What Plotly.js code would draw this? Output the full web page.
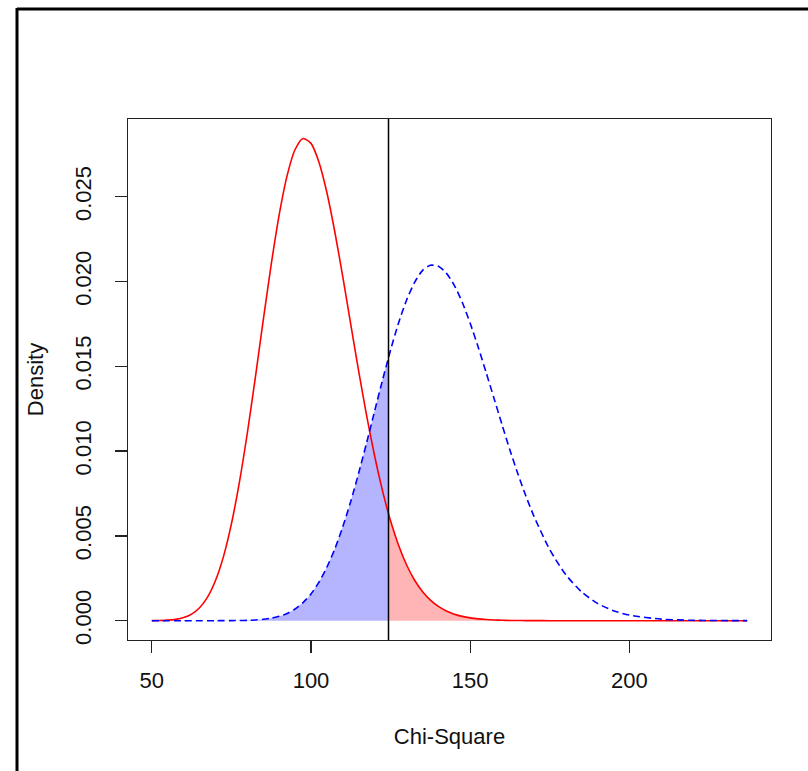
<!DOCTYPE html>
<html>
<head>
<meta charset="utf-8">
<script src="https://cdn.plot.ly/plotly-3.0.1.min.js"></script>
<style>
html,body{margin:0;padding:0;background:#fff;}
#chart{width:808px;height:771px;}
</style>
</head>
<body>
<div id="chart"></div>
<script>
// Chi-square values (x axis)
const chiX = [50,52.5,55,57.5,60,62.5,65,67.5,70,72.5,75,77.5,80,82.5,85,87.5,90,92.5,95,97.5,100,102.5,105,107.5,110,112.5,115,117.5,120,122.5,124.34,125,127.5,130,132.5,135,137.5,140,142.5,145,147.5,150,152.5,155,157.5,160,162.5,165,167.5,170,175,180,185,190,195,200,210,220,237];
// Null (central) density - red solid
const nullDensity = [0.0000036,0.0000113,0.0000316,0.00008,0.000184,0.000389,0.000763,0.00139,0.00237,0.00378,0.00571,0.00816,0.01107,0.01432,0.01773,0.02101,0.02394,0.02625,0.02779,0.02844,0.02815,0.02704,0.02524,0.02291,0.02026,0.01746,0.01469,0.01207,0.00970,0.00763,0.00631,0.00588,0.00445,0.00330,0.00240,0.00172,0.00121,0.00084,0.00057,0.000385,0.000255,0.000166,0.000107,0.000068,0.000043,0.0000265,0.000016,0.0000098,0.000006,0.0000035,0.0000012,0.0000004,0.0000001,0,0,0,0,0,0];
// Alternative (noncentral) density - blue dashed
const altDensity = [0,0,0,0,0,0.0000001,0.0000003,0.0000006,0.0000012,0.0000027,0.0000047,0.000011,0.000022,0.000044,0.000083,0.00015,0.00026,0.00043,0.00069,0.00107,0.00158,0.00227,0.00316,0.00424,0.00555,0.00705,0.00873,0.01051,0.01238,0.01422,0.01551,0.01597,0.01756,0.01890,0.01994,0.02065,0.02096,0.02090,0.02050,0.01978,0.01878,0.01754,0.01614,0.01464,0.01310,0.01156,0.01005,0.00865,0.00735,0.00617,0.00419,0.00272,0.00170,0.00102,0.00059,0.00033,0.000092,0.000023,0.000002];
// Critical value
const critValue = 124.34;
// Tick labels
const xTicks = [50,100,150,200];
const yTicks = [0,0.005,0.010,0.015,0.020,0.025];
const yTickLabels = ["0.000","0.005","0.010","0.015","0.020","0.025"];

const leftX = [], leftY = [], rightX = [], rightY = [];
chiX.forEach((x,i)=>{
  if (x <= critValue) { leftX.push(x); leftY.push(altDensity[i]); }
  if (x >= critValue) { rightX.push(x); rightY.push(nullDensity[i]); }
});

const fontFam = '"Liberation Sans", Arial, Helvetica, sans-serif';
const sm = 0.7;

const traces = [
  {x:leftX, y:leftY, type:'scatter', mode:'lines', fill:'tozeroy',
   fillcolor:'rgba(0,0,255,0.29)', line:{width:0, shape:'spline', smoothing:sm}, hoverinfo:'skip'},
  {x:rightX, y:rightY, type:'scatter', mode:'lines', fill:'tozeroy',
   fillcolor:'rgba(255,0,0,0.29)', line:{width:0, shape:'spline', smoothing:sm}, hoverinfo:'skip'},
  {x:chiX, y:nullDensity, type:'scatter', mode:'lines',
   line:{color:'#ff0000', width:1.6, shape:'spline', smoothing:sm}},
  {x:chiX, y:altDensity, type:'scatter', mode:'lines',
   line:{color:'#0000ff', width:1.6, dash:'7px,4px', shape:'spline', smoothing:sm}}
];

const xmin = 50, xmax = 237, ymax = 0.02845;
const xpad = (xmax - xmin) * 0.04, ypad = ymax * 0.04;

const layout = {
  width:808, height:771,
  margin:{l:128, r:37, t:119, b:131},
  paper_bgcolor:'#fff', plot_bgcolor:'#fff',
  showlegend:false,
  font:{family:fontFam, size:22, color:'#000'},
  xaxis:{
    range:[xmin - xpad, xmax + xpad],
    tickvals:xTicks, ticktext:xTicks.map(String),
    ticks:'outside', ticklen:12, tickwidth:1.3, tickcolor:'#222',
    showline:true, linecolor:'#222', linewidth:1.3, mirror:true,
    showgrid:false, zeroline:false,
    ticklabelstandoff:8,
    tickfont:{family:fontFam, size:22, color:'#111'},
    title:{text:'Chi-Square', font:{family:fontFam, size:22, color:'#111'}, standoff:37}
  },
  yaxis:{
    range:[-ypad, ymax + ypad],
    tickvals:yTicks, ticktext:yTickLabels,
    tickangle:-90,
    ticks:'outside', ticklen:12, tickwidth:1.3, tickcolor:'#222',
    showline:true, linecolor:'#222', linewidth:1.3, mirror:true,
    showgrid:false, zeroline:false,
    ticklabelstandoff:15,
    tickfont:{family:fontFam, size:22, color:'#111'},
    title:{text:'Density', font:{family:fontFam, size:22, color:'#111'}, standoff:21}
  },
  shapes:[
    {type:'line', xref:'x', yref:'paper', x0:critValue, x1:critValue, y0:0, y1:1,
     line:{color:'#000', width:1.5}},
    // outer frame (left and top edges)
    {type:'line', xref:'paper', yref:'paper', x0:(17-128)/643, x1:(17-128)/643,
     y0:(640-8)/521, y1:(640-800)/521, line:{color:'#000', width:3}},
    {type:'line', xref:'paper', yref:'paper', x0:(17-128)/643, x1:(830-128)/643,
     y0:(640-9)/521, y1:(640-9)/521, line:{color:'#000', width:3}}
  ]
};

Plotly.newPlot('chart', traces, layout, {displayModeBar:false, staticPlot:true});
</script>
</body>
</html>
